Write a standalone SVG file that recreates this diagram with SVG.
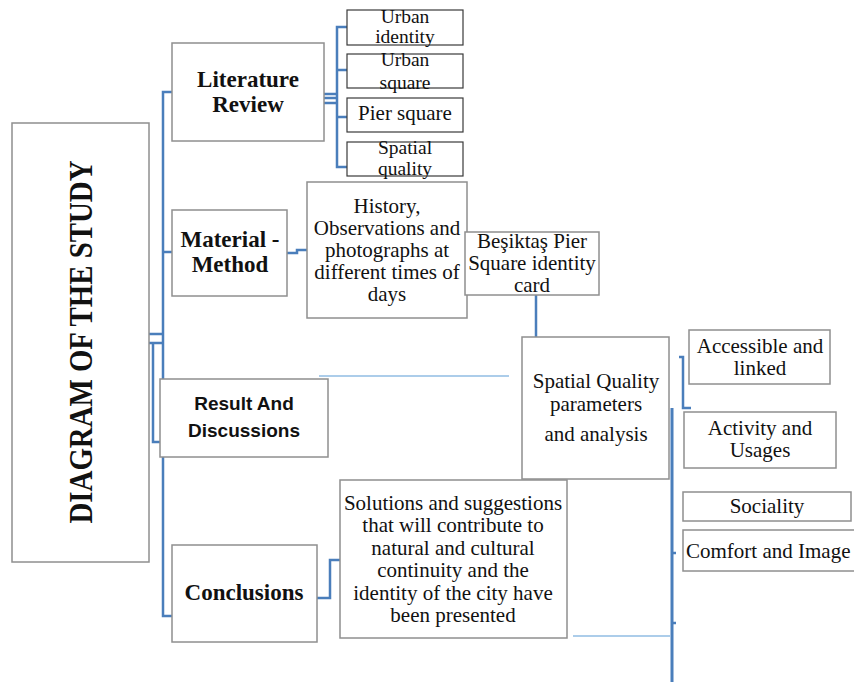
<svg xmlns="http://www.w3.org/2000/svg" width="854" height="682" viewBox="0 0 854 682">
<style>
.box{fill:#fff;stroke:#8f8f8f;stroke-width:1.5}
.sbox{fill:#fff;stroke:#3a3a3a;stroke-width:1.2}
.t{font-family:"Liberation Serif","Times New Roman",serif;font-size:21px;fill:#111;text-anchor:middle}
.ts{font-family:"Liberation Serif","Times New Roman",serif;font-size:19.5px;fill:#111;text-anchor:middle}
.b{font-family:"Liberation Serif","Times New Roman",serif;font-size:23px;font-weight:bold;fill:#111;text-anchor:middle}
.s{font-family:"Liberation Sans",Arial,sans-serif;font-size:19px;font-weight:bold;fill:#111;text-anchor:middle}
.c{fill:none;stroke:#4a7ebb;stroke-width:2.5}
.l{fill:none;stroke:#5b9bd5;stroke-width:1.2}
</style>
<rect width="854" height="682" fill="#fff"/>
<g id="connectors">
<path class="c" d="M172,92 H163 V616 H172"/>
<path class="c" d="M163,252 H172"/>
<path class="c" d="M149,334 H163 M149,343 H163 M153,343 V442 H160"/>
<path class="c" d="M324,94 H337 M324,98 H337 M324,103 H337"/>
<path class="c" d="M347,27 H337 V167 H347 M337,70 H347 M337,117 H347"/>
<path class="c" d="M287,253 H297 V250 H307"/>
<path class="c" d="M405,247 H425"/>
<path class="c" d="M536,295 V337"/>
<path class="c" d="M679,357 H683 V408 H691"/>
<path class="c" d="M672,408 V682" style="stroke-width:3"/>
<path class="c" d="M672,553 H676 M672,623 H676"/>
<path class="c" d="M317,598 H330 V560 H340"/>
<path class="l" d="M319,376 H509"/>
<path class="l" d="M573,636 H670"/>
</g>
<g id="main">
<rect class="box" x="12" y="123" width="137" height="439"/>
<text class="b" transform="translate(92,342) rotate(-90)" style="font-size:34px" textLength="363" lengthAdjust="spacingAndGlyphs">DIAGRAM OF THE STUDY</text>
</g>
<g id="literature">
<rect class="box" x="172" y="43" width="152" height="98"/>
<text class="b" x="248" y="87">Literature</text>
<text class="b" x="248" y="112">Review</text>
</g>
<g id="urban-identity">
<rect class="sbox" x="347" y="10" width="116" height="35"/>
<text class="ts" x="405" y="23">Urban</text>
<text class="ts" x="405" y="43">identity</text>
</g>
<g id="urban-square">
<rect class="sbox" x="347" y="54" width="116" height="34"/>
<text class="ts" x="405" y="66">Urban</text>
<text class="ts" x="405" y="89">square</text>
</g>
<g id="pier-square">
<rect class="sbox" x="347" y="98" width="116" height="34"/>
<text class="t" x="405" y="120">Pier square</text>
</g>
<g id="spatial-quality">
<rect class="sbox" x="347" y="142" width="116" height="34"/>
<text class="ts" x="405" y="154">Spatial</text>
<text class="ts" x="405" y="175">quality</text>
</g>
<g id="material">
<rect class="box" x="172" y="210" width="115" height="86"/>
<text class="b" x="230" y="247">Material -</text>
<text class="b" x="230" y="272">Method</text>
</g>
<g id="history">
<rect class="box" x="307" y="182" width="160" height="136"/>
<text class="t" x="387" y="213">History,</text>
<text class="t" x="387" y="235">Observations and</text>
<text class="t" x="387" y="257">photographs at</text>
<text class="t" x="387" y="279">different times of</text>
<text class="t" x="387" y="301">days</text>
</g>
<g id="besiktas">
<rect class="box" x="465" y="232" width="134" height="63"/>
<text class="t" x="532" y="248">Beşiktaş Pier</text>
<text class="t" x="532" y="270">Square identity</text>
<text class="t" x="532" y="292">card</text>
</g>
<g id="result">
<rect class="box" x="160" y="379" width="168" height="78"/>
<text class="s" x="244" y="410">Result And</text>
<text class="s" x="244" y="437">Discussions</text>
</g>
<g id="spatial-parameters">
<rect class="box" x="522" y="337" width="147" height="142"/>
<text class="t" x="596" y="388">Spatial Quality</text>
<text class="t" x="596" y="411">parameters</text>
<text class="t" x="596" y="441">and analysis</text>
</g>
<g id="accessible">
<rect class="box" x="689" y="330" width="141" height="54"/>
<text class="t" x="760" y="353">Accessible and</text>
<text class="t" x="760" y="375">linked</text>
</g>
<g id="activity">
<rect class="box" x="684" y="412" width="152" height="56"/>
<text class="t" x="760" y="435">Activity and</text>
<text class="t" x="760" y="457">Usages</text>
</g>
<g id="sociality">
<rect class="box" x="683" y="492" width="168" height="29"/>
<text class="t" x="767" y="513">Sociality</text>
</g>
<g id="comfort">
<rect class="box" x="683" y="530" width="172" height="41"/>
<text class="t" x="686" y="558" style="text-anchor:start">Comfort and Image</text>
</g>
<g id="conclusions">
<rect class="box" x="172" y="545" width="145" height="97"/>
<text class="b" x="244" y="600">Conclusions</text>
</g>
<g id="solutions">
<rect class="box" x="340" y="480" width="227" height="158"/>
<text class="t" x="453" y="510">Solutions and suggestions</text>
<text class="t" x="453" y="532">that will contribute to</text>
<text class="t" x="453" y="555">natural and cultural</text>
<text class="t" x="453" y="577">continuity and the</text>
<text class="t" x="453" y="600">identity of the city have</text>
<text class="t" x="453" y="622">been presented</text>
</g>
</svg>
